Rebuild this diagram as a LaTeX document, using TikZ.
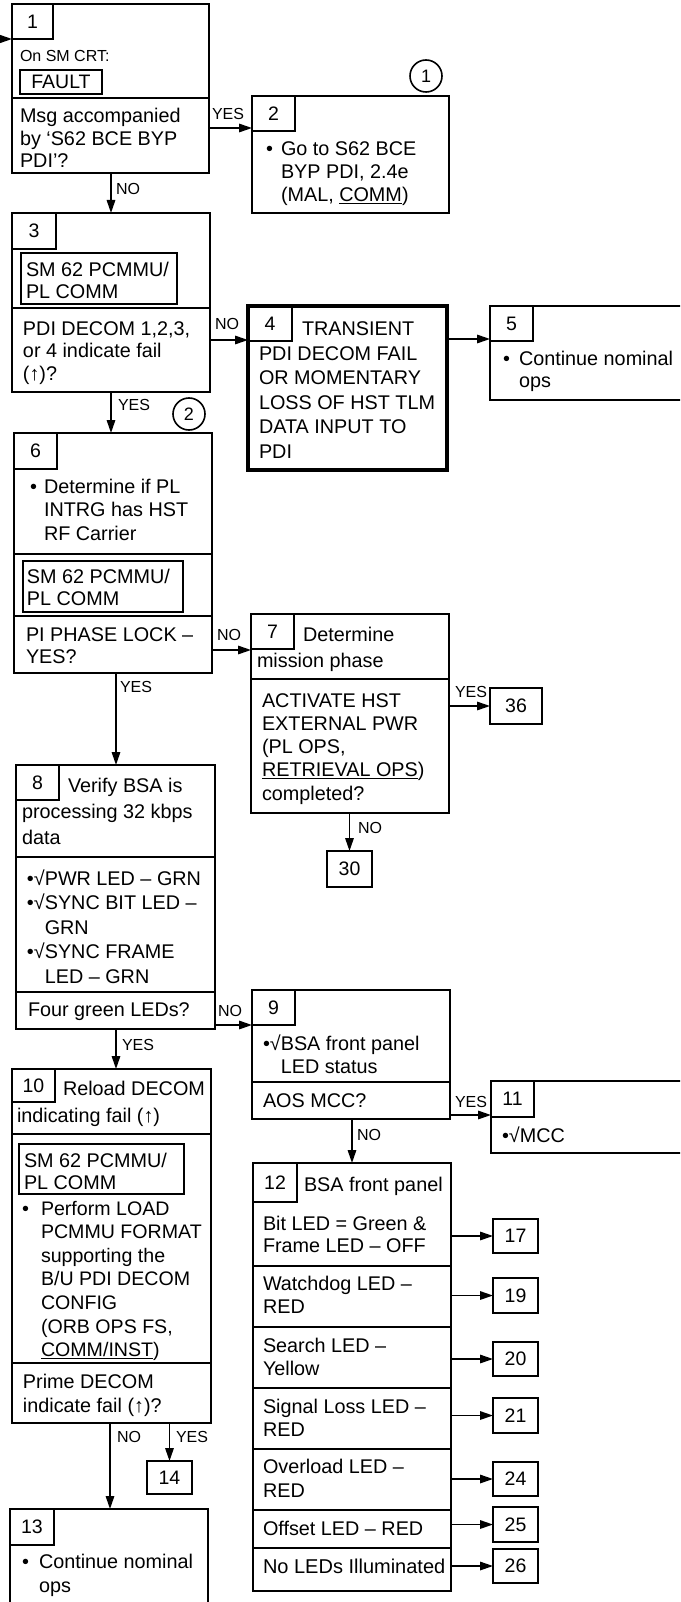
\documentclass[tikz,border=0pt]{standalone}
\usepackage{fontspec}
\setmainfont{Liberation Sans}
\usetikzlibrary{arrows.meta}
\newcommand\tl[1]{\begin{tabular}[t]{@{}l@{}}#1\end{tabular}}
\newcommand\fs[2]{\fontsize{#1}{#2}\selectfont}
\newcommand\bx[7][]{\pgfmathsetmacro\bxw{#5-#3}\pgfmathsetmacro\bxh{#6-#4}%
  \node[box,minimum width=\bxw pt,minimum height=\bxh pt,#1] (#2) at (#3,#4) {#7};}
\tikzset{
 ln/.style={line width=1.6pt},
 box/.style={draw,ln,anchor=north west,inner sep=0pt,outer sep=0pt,font=\fs{19.5}{22}},
 thickbox/.style={line width=3.8pt},
 txt/.style={anchor=base west,inner sep=0pt,outer sep=0pt,font=\fs{19.8}{23.5}},
 lbl/.style={anchor=base west,inner sep=0pt,outer sep=0pt,font=\fs{16}{18}},
 arr/.style={ln,-{Triangle[length=13pt,width=8.5pt]}},
 circ/.style={draw,ln,circle,minimum size=32pt,inner sep=0pt,font=\fs{18}{20}},
}
\begin{document}
\begin{tikzpicture}[x=1pt,y=-1pt]
\useasboundingbox (0,0) rectangle (680,1602);
\clip (0,0) rectangle (680,1602);
\fill[white] (0,0) rectangle (680,1602);

% ---------- Box 1
\bx{b1}{12}{4}{209}{173}{}
\bx{t1}{12}{4}{53}{39}{1}
\node[txt,font=\fs{16}{18}] (s1) at (20,62) {On SM CRT:};
\bx{f1}{20}{70}{102}{94}{FAULT}
\draw[ln] (12,98) -- (209,98);
\node[txt,font=\fs{19.8}{22.5}] (q1) at (20,123) {\tl{Msg accompanied\\by ‘S62 BCE BYP\\PDI’?}};

% ---------- Box 2
\bx{b2}{252}{96}{449}{213}{}
\bx{t2}{252}{96}{295}{131}{2}
\node[txt] (u2) at (266,156) {•};
\node[txt,font=\fs{19.8}{23}] (x2) at (281,156) {\tl{Go to S62 BCE\\BYP PDI, 2.4e\\(MAL, \underline{COMM})}};
\node[circ] (c1) at (426,76) {1};

% ---------- Box 3
\bx{b3}{12}{213}{210}{392}{}
\bx{t3}{12}{213}{56}{249}{3}
\bx{m3}{21}{253}{177}{304}{}
\node[txt,font=\fs{19.8}{22}] (y3) at (26,277) {\tl{SM 62 PCMMU/\\PL COMM}};
\draw[ln] (12,308) -- (210,308);
\node[txt,font=\fs{19.8}{22.5}] (q3) at (23,335) {\tl{PDI DECOM 1,2,3,\\or 4 indicate fail\\(↑)?}};

% ---------- Box 4
\bx[thickbox]{b4}{248}{306}{447}{470}{}
\bx{t4}{248}{306}{292}{341}{4}
\node[txt] (h4) at (302,335) {TRANSIENT};
\node[txt,font=\fs{19.8}{24.6}] (x4) at (259,360) {\tl{PDI DECOM FAIL\\OR MOMENTARY\\LOSS OF HST TLM\\DATA INPUT TO\\PDI}};

% ---------- Box 5
\bx{b5}{490}{306}{700}{400}{}
\bx{t5}{490}{306}{533}{341}{5}
\node[txt] (u5) at (503,365) {•};
\node[txt,font=\fs{19.8}{22.5}] (x5) at (519,365) {\tl{Continue nominal\\ops}};

% ---------- Box 6
\bx{b6}{14}{433}{212}{673}{}
\bx{t6}{14}{433}{57}{469}{6}
\node[txt] (u6) at (30,493) {•};
\node[txt] (x6) at (44,493) {\tl{Determine if PL\\INTRG has HST\\RF Carrier}};
\draw[ln] (14,554) -- (212,554);
\bx{m6}{23}{561}{183}{612}{}
\node[txt,font=\fs{19.8}{22}] (y6) at (27,583) {\tl{SM 62 PCMMU/\\PL COMM}};
\draw[ln] (14,616) -- (212,616);
\node[txt,font=\fs{19.8}{22}] (q6) at (26,641) {\tl{PI PHASE LOCK –\\YES?}};
\node[circ] (c2) at (189,414) {2};

% ---------- Box 7
\bx{b7}{251}{614}{449}{813}{}
\bx{t7}{251}{614}{294}{649}{7}
\node[txt] (h7) at (303,641) {Determine};
\node[txt] (k7) at (257,667) {mission phase};
\draw[ln] (251,679) -- (449,679);
\node[txt,font=\fs{19.8}{23.3}] (q7) at (262,707) {\tl{ACTIVATE HST\\EXTERNAL PWR\\(PL OPS,\\\underline{RETRIEVAL OPS})\\completed?}};
\bx{b36}{490}{688}{542}{724}{36}
\bx{b30}{327}{851}{372}{887}{30}

% ---------- Box 8
\bx{b8}{16}{765}{215}{1029}{}
\bx{t8}{16}{765}{59}{800}{8}
\node[txt] (h8) at (68,792) {Verify BSA is};
\node[txt,font=\fs{19.8}{26.5}] (k8) at (22,818) {\tl{processing 32 kbps\\data}};
\draw[ln] (16,857) -- (215,857);
\node[txt,font=\fs{19.8}{24.5}] (x8) at (27,885) {\tl{•√PWR LED – GRN\\•√SYNC BIT LED –\\\phantom{•√}GRN\\•√SYNC FRAME\\\phantom{•√}LED – GRN}};
\draw[ln] (16,992) -- (215,992);
\node[txt] (q8) at (28,1016) {Four green LEDs?};

% ---------- Box 9
\bx{b9}{252}{990}{450}{1119}{}
\bx{t9}{252}{990}{295}{1025}{9}
\node[txt,font=\fs{19.8}{23}] (x9) at (263,1050) {\tl{•√BSA front panel\\\phantom{•√}LED status}};
\draw[ln] (252,1082) -- (450,1082);
\node[txt] (q9) at (263,1107) {AOS MCC?};

% ---------- Box 11
\bx{b11}{491}{1081}{700}{1153}{}
\bx{t11}{491}{1081}{534}{1117}{11}
\node[txt] (x11) at (502,1142) {•√MCC};

% ---------- Box 12
\bx{b12}{253}{1163}{451}{1591}{}
\bx{t12}{253}{1163}{297}{1202}{12}
\node[txt] (h12) at (304,1191) {BSA front panel};
\foreach \yy in {1266,1327,1388,1449,1510,1548} \draw[ln] (253,\yy) -- (451,\yy);
\node[txt,font=\fs{19.8}{22}] (r1) at (263,1230) {\tl{Bit LED = Green \&\\Frame LED – OFF}};
\node[txt,font=\fs{19.8}{23}] (r2) at (263,1290) {\tl{Watchdog LED –\\RED}};
\node[txt,font=\fs{19.8}{23}] (r3) at (263,1352) {\tl{Search LED –\\Yellow}};
\node[txt,font=\fs{19.8}{23}] (r4) at (263,1413) {\tl{Signal Loss LED –\\RED}};
\node[txt,font=\fs{19.8}{24}] (r5) at (263,1473) {\tl{Overload LED –\\RED}};
\node[txt] (r6) at (263,1535) {Offset LED – RED};
\node[txt,font=\fs{20}{22}] (r7) at (263,1573) {No LEDs Illuminated};
\bx{b17}{493}{1219}{538}{1253}{17}
\bx{b19}{493}{1278}{538}{1313}{19}
\bx{b20}{493}{1342}{538}{1376}{20}
\bx{b21}{493}{1398}{538}{1433}{21}
\bx{b24}{493}{1462}{538}{1496}{24}
\bx{b25}{493}{1507}{538}{1542}{25}
\bx{b26}{493}{1549}{538}{1583}{26}

% ---------- Box 10
\bx{b10}{12}{1069}{211}{1423}{}
\bx{t10}{12}{1069}{55}{1102}{10}
\node[txt] (h10) at (63,1095) {Reload DECOM};
\node[txt] (k10) at (17,1122) {indicating fail (↑)};
\draw[ln] (12,1134) -- (211,1134);
\bx{m10}{19}{1144}{184}{1194}{}
\node[txt,font=\fs{19.8}{22}] (y10) at (24,1167) {\tl{SM 62 PCMMU/\\PL COMM}};
\node[txt] (u10) at (22,1215) {•};
\node[txt,font=\fs{19.6}{23.6}] (x10) at (41,1215) {\tl{Perform LOAD\\PCMMU FORMAT\\supporting the\\B/U PDI DECOM\\CONFIG\\(ORB OPS FS,\\\underline{COMM/INST})}};
\draw[ln] (12,1363) -- (211,1363);
\node[txt,font=\fs{19.8}{24}] (q10) at (23,1388) {\tl{Prime DECOM\\indicate fail (↑)?}};
\bx{b14}{147}{1461}{192}{1494}{14}

% ---------- Box 13
\bx{b13}{10}{1509}{208}{1620}{}
\bx{t13}{10}{1509}{54}{1545}{13}
\node[txt] (u13) at (22,1568) {•};
\node[txt,font=\fs{19.8}{24}] (x13) at (39,1568) {\tl{Continue nominal\\ops}};

% ---------- Connectors
\coordinate (in) at (0,39);
\draw[arr] (in) -- (in -| b1.west);
\draw[arr] ([yshift=-124pt]b1.north east) -- ([yshift=-32pt]b2.north west);
\node[lbl] (l12) at (212,120) {YES};
\draw[arr] ([xshift=99pt]b1.south west) -- ([xshift=99pt]b3.north west);
\node[lbl] (l13) at (116,195) {NO};
\draw[arr] ([yshift=-127pt]b3.north east) -- ([yshift=-34pt]b4.north west);
\node[lbl] (l34) at (215,330) {NO};
\draw[arr] ([yshift=-33pt]b4.north east) -- ([yshift=-33pt]b5.north west);
\draw[arr] ([xshift=99pt]b3.south west) -- ([xshift=97pt]b6.north west);
\node[lbl] (l36) at (118,410) {YES};
\draw[arr] ([yshift=-217pt]b6.north east) -- ([yshift=-36pt]b7.north west);
\node[lbl] (l67) at (217,640) {NO};
\draw[arr] (b36.west -| b7.east) -- (b36.west);
\node[lbl] (l736) at (455,697) {YES};
\draw[arr] (b30.north |- b7.south) -- (b30.north);
\node[lbl] (l730) at (358,833) {NO};
\draw[arr] ([xshift=102pt]b6.south west) -- ([xshift=100pt]b8.north west);
\node[lbl] (l68) at (120,692) {YES};
\draw[arr] ([yshift=-260pt]b8.north east) -- ([yshift=-35pt]b9.north west);
\node[lbl] (l89) at (218,1016) {NO};
\draw[arr] ([xshift=100pt]b8.south west) -- ([xshift=104pt]b10.north west);
\node[lbl] (l810) at (122,1050) {YES};
\draw[arr] ([yshift=-125pt]b9.north east) -- ([yshift=-34pt]b11.north west);
\node[lbl] (l911) at (455,1107) {YES};
\draw[arr] ([xshift=100pt]b9.south west) -- ([xshift=99pt]b12.north west);
\node[lbl] (l912) at (357,1140) {NO};
\foreach \t in {b17,b19,b20,b21,b24,b25,b26} \draw[arr] (\t.west -| b12.east) -- (\t.west);
\draw[arr] ([xshift=98pt]b10.south west) -- ([xshift=100pt]b13.north west);
\node[lbl] (l1013) at (117,1442) {NO};
\draw[arr] (b14.north |- b10.south) -- (b14.north);
\node[lbl] (l1014) at (176,1442) {YES};
\end{tikzpicture}
\end{document}
